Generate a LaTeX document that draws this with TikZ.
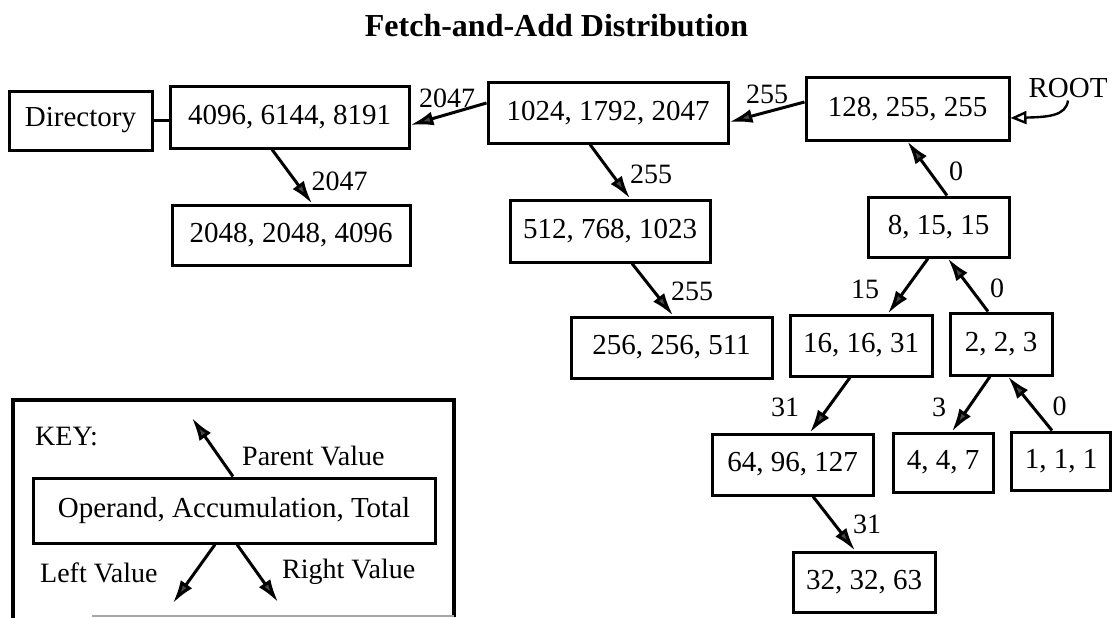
\documentclass[tikz,border=0pt]{standalone}
\usepackage{fontspec}
\setmainfont{Liberation Serif}
\usetikzlibrary{arrows.meta}

\tikzset{
  valbox/.style={draw, line width=3pt, inner sep=0pt, minimum height=60pt,
    font=\fontsize{29}{31}\selectfont},
  link/.style={line width=3pt,
    -{Latex[length=23pt,width=14pt,fill=black!72]}},
  elabel/.style={anchor=base, inner sep=0pt, font=\fontsize{28}{30}\selectfont},
  keytext/.style={anchor=base west, inner sep=0pt, font=\fontsize{28}{30}\selectfont},
}

\begin{document}
\begin{tikzpicture}[x=1pt,y=-1pt]
\useasboundingbox (0,0) rectangle (1114,618);

% title
\node[anchor=base, inner sep=0pt, font=\fontsize{32}{34}\selectfont\bfseries]
  (title) at (556.5,37) {Fetch-and-Add Distribution};

% value boxes: operand, accumulation, total
\node[valbox, minimum width=143pt, minimum height=59pt] (dir) at (80.5,120.5) {Directory};
\node[valbox, minimum width=239pt, minimum height=61pt] (n4096) at (289.5,117.5) {4096, 6144, 8191};
\node[valbox, minimum width=238pt] (n2048) at (291,235) {2048, 2048, 4096};
\node[valbox, minimum width=240pt] (n1024) at (608,113) {1024, 1792, 2047};
\node[valbox, minimum width=200pt, minimum height=62pt] (n512) at (610,231) {512, 768, 1023};
\node[valbox, minimum width=201pt, minimum height=61pt] (n256) at (671.5,347.5) {256, 256, 511};
\node[valbox, minimum width=203pt, minimum height=62pt] (n128) at (907.5,109) {128, 255, 255};
\node[valbox, minimum width=141pt] (n8) at (938.5,227) {8, 15, 15};
\node[valbox, minimum width=142pt, minimum height=61pt] (n16) at (861,345.5) {16, 16, 31};
\node[valbox, minimum width=102pt, minimum height=62pt] (n2) at (1001,344) {2, 2, 3};
\node[valbox, minimum width=161pt, minimum height=61pt] (n64) at (792.5,464.5) {64, 96, 127};
\node[valbox, minimum width=100pt, minimum height=59pt] (n4) at (943,462.5) {4, 4, 7};
\node[valbox, minimum width=99pt, minimum height=58pt] (n1) at (1061,461) {1, 1, 1};
\node[valbox, minimum width=142pt] (n32) at (864,582) {32, 32, 63};

% root marker
\node[anchor=base, inner sep=0pt, font=\fontsize{29}{31}\selectfont] (root) at (1068,98) {ROOT};
\draw[line width=2.4pt, -{Triangle[open,length=16pt,width=13pt,fill=white]}]
  ([yshift=-2pt]root.south) .. controls (1066,116) and (1048,117) .. ([yshift=-9pt]n128.east);

% links between boxes
\draw[line width=3pt] (dir.east) -- (dir.east -| n4096.west);
\draw[link] ([yshift=10pt]n1024.west) -- ([yshift=-7.5pt]n4096.east);
\draw[link] ([xshift=-17.5pt]n4096.south) -- ([xshift=21pt]n2048.north);
\draw[link] ([yshift=7pt]n128.west) -- ([yshift=-9pt]n1024.east);
\draw[link] ([xshift=-18pt]n1024.south) -- ([xshift=20pt]n512.north);
\draw[link] ([xshift=22pt]n512.south) -- ([xshift=1.5pt]n256.north);
\draw[link] ([xshift=8.5pt]n8.north) -- (n128.south);
\draw[link] ([xshift=-10.5pt]n8.south) -- ([xshift=27pt]n16.north);
\draw[link] ([xshift=-13pt]n2.north) -- ([xshift=9.5pt]n8.south);
\draw[link] ([xshift=-11pt]n16.south) -- ([xshift=17.5pt]n64.north);
\draw[link] ([xshift=-11pt]n2.south) -- ([xshift=9pt]n4.north);
\draw[link] ([xshift=-9pt]n1.north) -- ([xshift=7pt]n2.south);
\draw[link] ([xshift=20.5pt]n64.south) -- ([xshift=-9pt]n32.north);

% link labels
\node[elabel] (l1) at (447,107) {2047};
\node[elabel] (l2) at (339.5,190) {2047};
\node[elabel] (l3) at (767,103) {255};
\node[elabel] (l4) at (651,183) {255};
\node[elabel] (l5) at (692,300) {255};
\node[elabel] (l6) at (956,180) {0};
\node[elabel] (l7) at (865,298) {15};
\node[elabel] (l8) at (997,297) {0};
\node[elabel] (l9) at (785,416) {31};
\node[elabel] (l10) at (939,416) {3};
\node[elabel] (l11) at (1059.5,415) {0};
\node[elabel] (l12) at (867,533) {31};

% key
\draw[line width=3.4pt] (13,618) -- (13,400) -- (454,400) -- (454,616.5);
\draw[line width=2pt, black!35] (92,615.5) -- (454,615.5);
\node[keytext] (keylbl) at (35,445) {KEY:};
\node[valbox, minimum width=402pt, minimum height=65pt] (keybox) at (234,510.5)
  {Operand, Accumulation, Total};
\coordinate (kparent) at (192,418);
\coordinate (kleft) at (173,603);
\coordinate (kright) at (278,602);
\draw[link] ([xshift=-1pt]keybox.north) -- (kparent);
\draw[link] ([xshift=-19pt]keybox.south) -- (kleft);
\draw[link] ([xshift=3pt]keybox.south) -- (kright);
\node[keytext] (kpv) at (242,465) {Parent Value};
\node[keytext] (klv) at (40,582) {Left Value};
\node[keytext] (krv) at (282,578) {Right Value};
\end{tikzpicture}
\end{document}
